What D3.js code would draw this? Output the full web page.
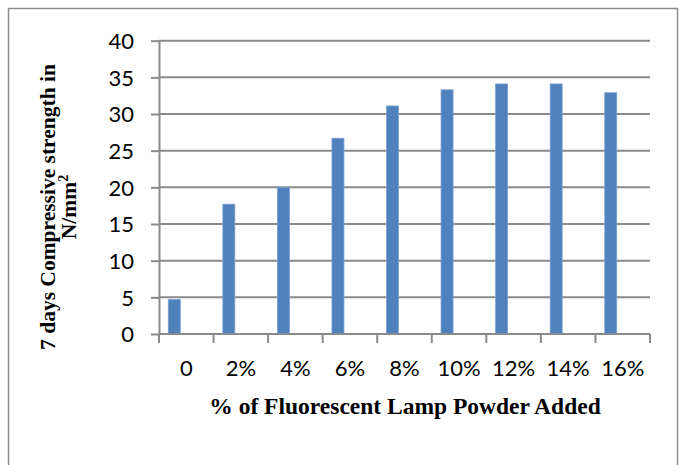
<!DOCTYPE html>
<html>
<head>
<meta charset="utf-8">
<script src="https://cdn.jsdelivr.net/npm/d3@7"></script>
<style>
  html, body { margin: 0; padding: 0; background: #fff; }
  svg { display: block; }
</style>
</head>
<body>
<svg id="chart" width="679" height="465"></svg>
<script>
// Percentage of fluorescent lamp powder added (category labels)
const categories = ["0", "2%", "4%", "6%", "8%", "10%", "12%", "14%", "16%"];
// 7-day compressive strength, N/mm²
const strength = [4.7, 17.7, 20.0, 26.7, 31.1, 33.3, 34.1, 34.1, 32.9];
// Clustered series slots (only the first carries data)
const seriesSlots = ["strength", "slot2", "slot3"];
const yTicks = [0, 5, 10, 15, 20, 25, 30, 35, 40];

const svg = d3.select("#chart");
const plot = { left: 159, right: 650, top: 40.7, bottom: 334 };
const gridColor = "#8a8a8a";
const tickFont = "Lato, 'Open Sans', sans-serif";
const titleFont = "'Liberation Serif', 'Times New Roman', serif";

// outer chart frame
svg.append("rect")
  .attr("x", 8.5).attr("y", 8.5)
  .attr("width", 669).attr("height", 480)
  .attr("fill", "none").attr("stroke", "#8c8c8c").attr("stroke-width", 1.5);

const x = d3.scaleBand().domain(categories).range([plot.left, plot.right]).padding(0);
const x1 = d3.scaleBand().domain(seriesSlots).range([0, x.bandwidth()])
  .paddingInner(0).paddingOuter(0.775);
const y = d3.scaleLinear().domain([0, 40]).range([plot.bottom, plot.top]);

// horizontal gridlines
svg.append("g").selectAll("line").data(yTicks.filter(d => d > 0)).join("line")
  .attr("x1", plot.left).attr("x2", plot.right)
  .attr("y1", d => y(d)).attr("y2", d => y(d))
  .attr("stroke", gridColor).attr("stroke-width", 2);

// y axis
const yAxis = svg.append("g")
  .attr("transform", `translate(${plot.left},0)`)
  .call(d3.axisLeft(y).tickValues(yTicks).tickSize(8).tickPadding(17).tickSizeOuter(0));
yAxis.select(".domain").attr("stroke", gridColor).attr("stroke-width", 2);
yAxis.selectAll(".tick line").attr("stroke", gridColor).attr("stroke-width", 2);
yAxis.selectAll(".tick text")
  .attr("font-family", tickFont)
  .attr("font-size", 22).attr("fill", "#000").attr("dy", "0.36em");

// bars
svg.append("g").selectAll("rect").data(strength).join("rect")
  .attr("x", (d, i) => x(categories[i]) + x1("strength"))
  .attr("width", x1.bandwidth())
  .attr("y", d => y(d))
  .attr("height", d => y(0) - y(d))
  .attr("fill", "#4f81bd")
  .attr("stroke", "#7aa0d2").attr("stroke-width", 0.8);

// x axis line and category boundary ticks
const boundaries = categories.map(c => x(c)).concat([plot.right]);
const xAxis = svg.append("g");
xAxis.append("line")
  .attr("x1", plot.left).attr("x2", plot.right)
  .attr("y1", plot.bottom).attr("y2", plot.bottom)
  .attr("stroke", gridColor).attr("stroke-width", 2);
xAxis.selectAll("line.tick").data(boundaries).join("line")
  .attr("class", "tick")
  .attr("x1", d => d).attr("x2", d => d)
  .attr("y1", plot.bottom).attr("y2", plot.bottom + 9)
  .attr("stroke", gridColor).attr("stroke-width", 2);
xAxis.selectAll("text").data(categories).join("text")
  .attr("x", d => x(d) + x.bandwidth() / 2)
  .attr("y", 376)
  .attr("text-anchor", "middle")
  .attr("font-family", tickFont)
  .attr("font-size", 22).attr("fill", "#000")
  .text(d => d);

// axis titles
svg.append("text")
  .attr("x", 405).attr("y", 414)
  .attr("text-anchor", "middle")
  .attr("font-family", titleFont)
  .attr("font-weight", "bold").attr("font-size", 23.5).attr("fill", "#000")
  .text("% of Fluorescent Lamp Powder Added");

const yTitle = svg.append("text")
  .attr("transform", "rotate(-90)")
  .attr("text-anchor", "middle")
  .attr("font-family", titleFont)
  .attr("font-weight", "bold").attr("font-size", 21.5).attr("fill", "#000");
yTitle.append("tspan").attr("x", -207).attr("y", 55).text("7 days Compressive strength in");
const unit = yTitle.append("tspan").attr("x", -207).attr("y", 76);
unit.append("tspan").text("N/mm");
unit.append("tspan").attr("font-size", 14).attr("dy", -8).text("2");
</script>
</body>
</html>
